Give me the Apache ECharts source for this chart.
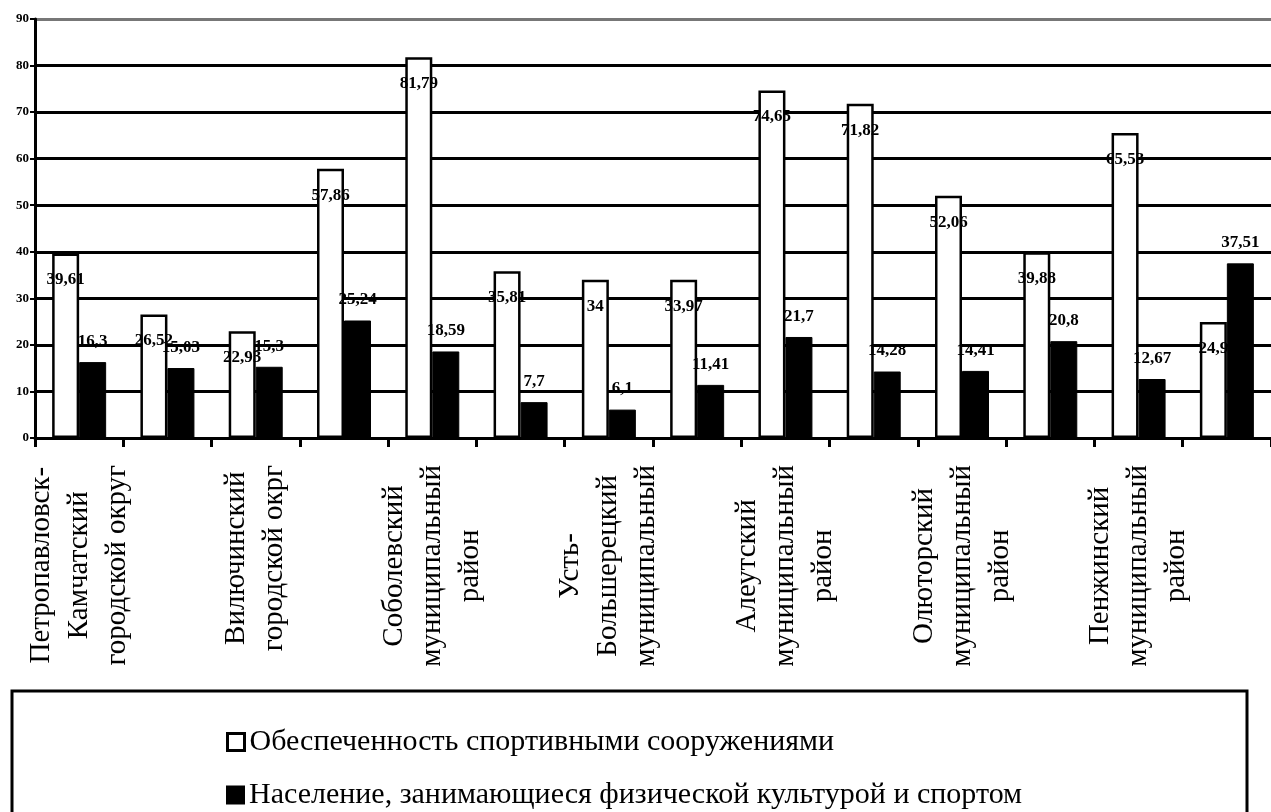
<!DOCTYPE html>
<html>
<head>
<meta charset="utf-8">
<script src="https://cdn.jsdelivr.net/npm/echarts@6/dist/echarts.min.js"></script>
<style>
html,body{margin:0;padding:0;background:#fff;}
#chart{width:1271px;height:812px;}
</style>
</head>
<body>
<div id="chart"></div>
<script>
const categories = [
  "Петропавловск-\nКамчатский\nгородской округ",
  "Елизовский\nмуниципальный\nрайон",
  "Вилючинский\nгородской окрг",
  "Мильковский\nмуниципальный\nрайон",
  "Соболевский\nмуниципальный\nрайон",
  "Быстринский\nмуниципальный\nрайон",
  "Усть-\nБольшерецкий\nмуниципальный",
  "Усть-Камчатский\nмуниципальный\nрайон",
  "Алеутский\nмуниципальный\nрайон",
  "Карагинский\nмуниципальный\nрайон",
  "Олюторский\nмуниципальный\nрайон",
  "Тигильский\nмуниципальный\nрайон",
  "Пенжинский\nмуниципальный\nрайон",
  "городской округ\n«посёлок Палана»"
];
const seriesNames = [
  "Обеспеченность спортивными сооружениями",
  "Население, занимающиеся физической культурой и спортом"
];
const facilities = [39.61, 26.52, 22.93, 57.86, 81.79, 35.81, 34, 33.97, 74.65, 71.82, 52.06, 39.88, 65.53, 24.9];
const population = [16.3, 15.03, 15.3, 25.24, 18.59, 7.7, 6.1, 11.41, 21.7, 14.28, 14.41, 20.8, 12.67, 37.51];
const yTicks = [0, 10, 20, 30, 40, 50, 60, 70, 80, 90];

const serif = "'Liberation Serif', 'DejaVu Serif', serif";
const fmt = v => String(v).replace('.', ',');

const legendBase = {
  orient: 'vertical',
  left: 221,
  itemWidth: 17,
  itemHeight: 17,
  icon: 'rect',
  textStyle: { fontFamily: serif, fontSize: 30, color: '#000' }
};

const chart = echarts.init(document.getElementById('chart'));
chart.setOption({
  animation: false,
  backgroundColor: '#fff',
  grid: { left: 35, top: 19, bottom: 374, width: 1242, containLabel: false },
  graphic: [{
    type: 'rect',
    shape: { x: 12, y: 691, width: 1235, height: 140 },
    style: { fill: 'none', stroke: '#000', lineWidth: 3 },
    silent: true
  }],
  legend: [
    Object.assign({}, legendBase, { top: 722, data: [seriesNames[0]], itemStyle: { borderWidth: 3 } }),
    Object.assign({}, legendBase, { top: 775, data: [seriesNames[1]] })
  ],
  xAxis: {
    type: 'category',
    data: categories,
    boundaryGap: true,
    axisLine: { lineStyle: { color: '#000', width: 3 } },
    axisTick: { show: true, interval: 0, length: 9, lineStyle: { color: '#000', width: 3 } },
    axisLabel: {
      interval: 1,
      rotate: 90,
      margin: 27,
      color: '#000',
      fontFamily: serif,
      fontSize: 29,
      lineHeight: 38,
      formatter: v => v.split('\n').map(l => '{c|' + l + '}').join('\n'),
      rich: { c: { align: 'center', fontFamily: serif, fontSize: 29, lineHeight: 38, color: '#000' } }
    },
    splitLine: { show: false }
  },
  yAxis: {
    type: 'value',
    min: yTicks[0],
    max: yTicks[yTicks.length - 1],
    interval: 10,
    axisLine: { show: true, lineStyle: { color: '#000', width: 3 } },
    axisTick: { show: true, length: 5, lineStyle: { color: '#000', width: 2 } },
    axisLabel: { color: '#000', fontFamily: serif, fontSize: 13, fontWeight: 'bold', margin: 6 },
    splitLine: {
      show: true,
      lineStyle: { color: ['#000','#000','#000','#000','#000','#000','#000','#000','#000','#777'], width: 3 }
    }
  },
  series: [
    {
      name: seriesNames[0],
      type: 'bar',
      data: facilities,
      barWidth: 27,
      barGap: '0%',
      itemStyle: { color: '#fff', borderColor: '#000', borderWidth: 2.5 },
      label: {
        show: true,
        position: 'insideTop',
        distance: 18,
        formatter: p => fmt(p.value),
        fontFamily: serif, fontSize: 17, fontWeight: 'bold', color: '#000'
      }
    },
    {
      name: seriesNames[1],
      type: 'bar',
      data: population,
      barWidth: 27,
      barGap: '0%',
      itemStyle: { color: '#000', borderColor: '#000', borderWidth: 1 },
      label: {
        show: true,
        position: 'top',
        distance: 12,
        formatter: p => fmt(p.value),
        fontFamily: serif, fontSize: 17, fontWeight: 'bold', color: '#000'
      }
    }
  ]
});
</script>
</body>
</html>
